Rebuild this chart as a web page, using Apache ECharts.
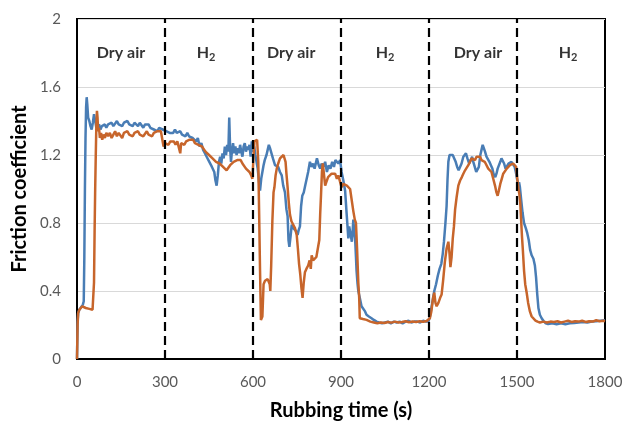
<!DOCTYPE html>
<html>
<head>
<meta charset="utf-8">
<title>Friction coefficient vs rubbing time</title>
<script src="https://cdn.jsdelivr.net/npm/echarts@6/dist/echarts.min.js"></script>
<style>
    html, body { margin: 0; padding: 0; background: #fff; }
    #fig_friction { width: 623px; height: 421px; }
</style>
</head>
<body>
<div id="fig_friction"></div>
<script>
// [time (s), friction coefficient]
var blueSeries = [
    [0,0],[2,0.22],[4,0.27],[8,0.29],[14,0.30],[20,0.32],[23,0.34],[25,0.6],[27,1.0],[29,1.3],[31,1.48],[33,1.54],
    [35,1.50],[38,1.42],[42,1.40],[46,1.37],[50,1.35],[54,1.39],[58,1.44],[62,1.40],[66,1.36],[70,1.36],[75,1.38],
    [80,1.35],[85,1.37],[90,1.36],[95,1.38],[100,1.36],[106,1.38],[112,1.37],[118,1.39],[124,1.37],[130,1.38],
    [136,1.40],[142,1.38],[148,1.39],[154,1.37],[160,1.39],[166,1.38],[172,1.40],[178,1.38],[184,1.39],[190,1.37],
    [196,1.39],[202,1.38],[208,1.37],[214,1.39],[220,1.38],[226,1.36],[232,1.38],[238,1.37],[244,1.38],[250,1.36],
    [256,1.37],[262,1.35],[268,1.36],[274,1.34],[280,1.36],[286,1.37],[292,1.35],[298,1.36],[304,1.34],[310,1.35],
    [316,1.33],[322,1.34],[328,1.33],[334,1.35],[340,1.33],[346,1.32],[352,1.34],[358,1.32],[364,1.33],[370,1.31],
    [376,1.33],[382,1.31],[388,1.32],[394,1.30],[400,1.31],[406,1.28],[412,1.30],[418,1.25],[424,1.27],[430,1.23],
    [436,1.21],[442,1.19],[448,1.17],[454,1.16],[460,1.13],[464,1.14],[468,1.10],[472,1.05],[476,1.02],[480,1.08],
    [484,1.16],[488,1.19],[492,1.15],[496,1.21],[500,1.18],[504,1.25],[508,1.20],[512,1.26],[516,1.22],[519,1.42],
    [522,1.24],[525,1.16],[528,1.22],[532,1.27],[536,1.21],[540,1.25],[544,1.20],[548,1.24],[552,1.21],[556,1.26],
    [560,1.22],[564,1.19],[568,1.25],[572,1.27],[576,1.22],[580,1.25],[584,1.23],[588,1.26],[592,1.19],[596,1.28],
    [600,1.22],[604,1.25],[608,1.20],[612,1.16],[616,1.12],[620,1.05],[624,0.99],[628,1.06],[632,1.10],[636,1.14],
    [640,1.17],[646,1.20],[650,1.23],[654,1.26],[658,1.24],[663,1.21],[668,1.18],[675,1.14],[681,1.15],[686,1.13],
    [692,1.10],[698,1.08],[703,1.02],[709,0.98],[714,0.88],[718,0.84],[721,0.70],[724,0.66],[728,0.72],[732,0.79],
    [737,0.77],[743,0.78],[748,0.75],[752,0.73],[756,0.76],[760,0.78],[764,0.90],[768,0.96],[773,0.98],[778,1.02],
    [783,1.06],[788,1.10],[794,1.16],[800,1.13],[805,1.15],[810,1.12],[818,1.18],[824,1.14],[829,1.12],[834,1.15],
    [840,1.13],[846,1.16],[852,1.10],[858,1.14],[864,1.12],[870,1.16],[876,1.13],[881,1.17],[886,1.18],[891,1.15],
    [897,1.17],[902,1.10],[908,1.05],[914,0.99],[919,0.86],[925,0.71],[928,0.78],[931,0.79],[934,0.72],[937,0.69],
    [940,0.76],[942,0.82],[945,0.75],[948,0.71],[951,0.60],[953,0.52],[956,0.45],[959,0.40],[964,0.36],[970,0.31],
    [976,0.30],[982,0.28],[987,0.26],[995,0.25],[1004,0.24],[1012,0.23],[1021,0.22],[1030,0.215],[1040,0.21],
    [1050,0.215],[1060,0.22],[1070,0.21],[1080,0.22],[1090,0.215],[1100,0.22],[1110,0.21],[1120,0.22],[1130,0.225],
    [1140,0.215],[1150,0.22],[1160,0.22],[1170,0.215],[1180,0.225],[1190,0.22],[1198,0.22],[1203,0.25],[1208,0.30],
    [1213,0.35],[1218,0.40],[1224,0.44],[1230,0.49],[1236,0.53],[1242,0.56],[1247,0.62],[1251,0.69],[1256,0.80],
    [1260,0.90],[1263,1.05],[1266,1.16],[1270,1.20],[1275,1.21],[1281,1.20],[1286,1.18],[1291,1.16],[1296,1.13],
    [1301,1.11],[1306,1.12],[1311,1.15],[1317,1.19],[1322,1.20],[1326,1.21],[1331,1.18],[1337,1.15],[1342,1.17],
    [1347,1.19],[1351,1.16],[1356,1.13],[1361,1.10],[1366,1.09],[1370,1.13],[1375,1.20],[1379,1.23],[1383,1.26],
    [1387,1.25],[1391,1.22],[1396,1.19],[1401,1.18],[1406,1.16],[1411,1.14],[1416,1.12],[1420,1.09],[1426,1.07],
    [1430,1.09],[1434,1.12],[1438,1.13],[1443,1.16],[1447,1.18],[1451,1.17],[1456,1.15],[1461,1.12],[1466,1.13],
    [1471,1.15],[1476,1.14],[1481,1.16],[1487,1.15],[1492,1.13],[1496,1.10],[1500,1.06],[1504,1.02],[1507,1.04],
    [1510,1.01],[1514,0.94],[1519,0.86],[1524,0.80],[1530,0.77],[1535,0.74],[1540,0.70],[1545,0.64],[1550,0.61],
    [1556,0.59],[1561,0.55],[1565,0.48],[1569,0.38],[1573,0.30],[1578,0.26],[1584,0.24],[1590,0.225],[1598,0.21],
    [1606,0.205],[1620,0.21],[1635,0.205],[1650,0.21],[1665,0.205],[1680,0.21],[1695,0.212],[1710,0.215],
    [1725,0.218],[1740,0.215],[1755,0.22],[1770,0.222],[1785,0.225],[1800,0.228]
];

var orangeSeries = [
    [0,0],[2,0.20],[4,0.27],[8,0.29],[12,0.30],[18,0.31],[24,0.305],[30,0.30],[36,0.30],[42,0.295],[48,0.29],
    [53,0.29],[56,0.30],[58,0.45],[60,0.75],[62,1.0],[64,1.2],[66,1.38],[68,1.46],[70,1.42],[72,1.34],[75,1.36],
    [78,1.30],[82,1.33],[86,1.29],[90,1.32],[95,1.30],[100,1.33],[106,1.31],[112,1.33],[118,1.30],[124,1.32],
    [130,1.34],[136,1.31],[142,1.33],[148,1.32],[154,1.30],[160,1.33],[166,1.32],[172,1.34],[178,1.32],[184,1.33],
    [190,1.31],[196,1.33],[202,1.32],[208,1.34],[214,1.32],[220,1.33],[226,1.31],[232,1.32],[238,1.34],[244,1.32],
    [250,1.33],[256,1.31],[262,1.33],[268,1.32],[274,1.34],[280,1.33],[286,1.34],[292,1.35],[295,1.25],[300,1.27],
    [306,1.28],[312,1.26],[318,1.28],[324,1.27],[330,1.28],[336,1.26],[342,1.28],[348,1.27],[352,1.21],[355,1.27],
    [360,1.28],[366,1.26],[372,1.28],[378,1.27],[384,1.29],[390,1.28],[396,1.29],[402,1.27],[408,1.28],[414,1.26],
    [420,1.27],[426,1.25],[432,1.24],[438,1.22],[444,1.21],[450,1.20],[456,1.19],[462,1.18],[468,1.17],[474,1.16],
    [480,1.17],[486,1.15],[492,1.14],[498,1.13],[504,1.12],[510,1.11],[516,1.12],[522,1.14],[528,1.15],[534,1.16],
    [540,1.15],[546,1.17],[552,1.16],[558,1.17],[564,1.15],[570,1.14],[576,1.12],[582,1.12],[588,1.10],[594,1.08],
    [598,1.06],[602,1.20],[605,1.28],[610,1.29],[614,1.29],[618,1.16],[621,0.85],[624,0.52],[627,0.23],[630,0.22],
    [632,0.25],[636,0.44],[641,0.46],[646,0.45],[650,0.47],[654,0.48],[657,0.44],[659,0.40],[662,0.55],[666,0.81],
    [670,0.98],[673,1.01],[677,1.08],[681,1.12],[686,1.15],[692,1.18],[698,1.19],[704,1.20],[708,1.19],[711,1.16],
    [714,1.09],[718,1.01],[722,0.92],[726,0.85],[731,0.81],[737,0.81],[743,0.77],[749,0.73],[753,0.65],[757,0.56],
    [761,0.50],[765,0.42],[769,0.36],[773,0.45],[777,0.51],[782,0.53],[788,0.55],[793,0.58],[797,0.53],[800,0.61],
    [805,0.58],[811,0.57],[816,0.60],[822,0.59],[826,0.70],[829,0.85],[832,0.97],[835,1.10],[838,1.15],[842,1.14],
    [846,1.02],[850,1.04],[856,1.07],[862,1.06],[868,1.09],[874,1.08],[880,1.09],[886,1.06],[891,1.08],[897,1.07],
    [902,1.01],[908,1.03],[914,1.04],[920,1.02],[925,1.01],[931,1.00],[937,0.99],[942,0.87],[947,0.82],[951,0.80],
    [955,0.64],[959,0.45],[962,0.36],[964,0.24],[975,0.235],[987,0.23],[1000,0.22],[1012,0.215],[1024,0.21],
    [1036,0.215],[1048,0.212],[1060,0.218],[1072,0.214],[1084,0.22],[1096,0.215],[1108,0.218],[1120,0.222],
    [1132,0.216],[1144,0.22],[1156,0.218],[1168,0.222],[1180,0.219],[1192,0.224],[1198,0.22],[1203,0.24],
    [1208,0.28],[1214,0.36],[1218,0.39],[1222,0.33],[1226,0.31],[1232,0.33],[1238,0.36],[1243,0.38],[1248,0.46],
    [1254,0.57],[1260,0.65],[1266,0.69],[1270,0.62],[1273,0.54],[1277,0.60],[1281,0.71],[1285,0.78],[1289,0.88],
    [1294,0.95],[1300,1.02],[1306,1.05],[1312,1.07],[1317,1.09],[1323,1.11],[1328,1.12],[1334,1.14],[1340,1.16],
    [1345,1.18],[1351,1.19],[1357,1.17],[1362,1.19],[1368,1.18],[1374,1.19],[1379,1.17],[1385,1.18],[1390,1.16],
    [1396,1.15],[1402,1.12],[1408,1.11],[1413,1.10],[1419,1.06],[1425,1.02],[1430,0.98],[1434,0.96],[1438,0.99],
    [1443,1.03],[1448,1.06],[1453,1.09],[1459,1.10],[1465,1.12],[1470,1.12],[1476,1.14],[1482,1.15],[1487,1.15],
    [1492,1.14],[1497,1.13],[1501,1.06],[1505,1.00],[1508,0.97],[1511,0.92],[1514,0.82],[1517,0.72],[1520,0.64],
    [1524,0.52],[1528,0.44],[1533,0.39],[1538,0.33],[1544,0.28],[1550,0.25],[1556,0.24],[1563,0.226],[1570,0.22],
    [1578,0.215],[1590,0.22],[1602,0.215],[1614,0.22],[1626,0.218],[1638,0.222],[1650,0.215],[1662,0.22],
    [1674,0.225],[1686,0.218],[1698,0.222],[1710,0.22],[1722,0.225],[1734,0.218],[1746,0.222],[1758,0.22],
    [1770,0.228],[1782,0.222],[1794,0.225],[1800,0.222]
];

// gas switch times and the atmosphere names written over each stage
var switchTimes = [300, 600, 900, 1200, 1500];
var stageLabels = ['Dry air', 'H2', 'Dry air', 'H2', 'Dry air', 'H2'];
var stageLabelTimes = [150, 440, 730, 1050, 1367, 1674];
var stageLabelLevel = 1.8;

var xTicks = [0, 300, 600, 900, 1200, 1500, 1800];
var yTicks = [0, 0.4, 0.8, 1.2, 1.6, 2];

var fig_friction = {
    plot_id: 'fig_friction',
    plot_chart: null,

    init: function() {
        var font = 'Lato, "Open Sans", sans-serif';

        var labelData = [];
        for (let i = 0; i < stageLabels.length; i++) {
            labelData.push([stageLabelTimes[i], stageLabelLevel, stageLabels[i]]);
        }

        this.option = {
            animation: false,
            textStyle: { fontFamily: font },
            grid: {
                top: 19,
                right: 18,
                bottom: 62,
                left: 77,
                outerBoundsMode: 'none',
                show: true,
                borderColor: '#000',
                borderWidth: 2
            },
            xAxis: {
                type: 'value',
                min: xTicks[0],
                max: xTicks[xTicks.length - 1],
                interval: xTicks[1] - xTicks[0],
                name: 'Rubbing time (s)',
                nameLocation: 'middle',
                nameGap: 42,
                nameTextStyle: { fontSize: 20, fontWeight: 'bold', color: '#000', fontFamily: font },
                axisLine: { lineStyle: { color: '#000', width: 2 } },
                axisTick: { show: false },
                splitLine: { show: false },
                axisLabel: {
                    fontSize: 15, color: '#595959', margin: 16, fontFamily: font,
                    formatter: function(v) { return String(v); }
                }
            },
            yAxis: {
                type: 'value',
                min: yTicks[0],
                max: yTicks[yTicks.length - 1],
                interval: yTicks[1] - yTicks[0],
                name: 'Friction coefficient',
                nameLocation: 'middle',
                nameGap: 46,
                nameTextStyle: { fontSize: 20, fontWeight: 'bold', color: '#000', fontFamily: font },
                axisLine: { show: true, lineStyle: { color: '#000', width: 2 } },
                axisTick: { show: false },
                splitLine: { lineStyle: { color: '#d9d9d9', width: 1 } },
                axisLabel: { fontSize: 15, color: '#595959', margin: 16, fontFamily: font }
            },
            series: [
                {
                    name: 'blue',
                    type: 'line',
                    data: blueSeries,
                    showSymbol: false,
                    lineStyle: { color: '#497db5', width: 2.5 },
                    itemStyle: { color: '#497db5' },
                    z: 2
                },
                {
                    name: 'orange',
                    type: 'line',
                    data: orangeSeries,
                    showSymbol: false,
                    lineStyle: { color: '#c7652b', width: 2.5 },
                    itemStyle: { color: '#c7652b' },
                    z: 3
                },
                {
                    name: 'switches',
                    type: 'line',
                    data: [],
                    z: 4,
                    markLine: {
                        silent: true,
                        symbol: ['none', 'none'],
                        label: { show: false },
                        lineStyle: { color: '#000', width: 2.2, type: [9, 5] },
                        data: switchTimes.map(function(t) { return { xAxis: t }; })
                    }
                },
                {
                    name: 'stages',
                    type: 'scatter',
                    data: labelData,
                    symbolSize: 0,
                    silent: true,
                    z: 5,
                    label: {
                        show: true,
                        position: 'inside',
                        formatter: function(p) {
                            var s = p.data[2];
                            if (s === 'H2') return '{b|H}{s|2}';
                            return '{b|' + s + '}';
                        },
                        rich: {
                            b: { fontSize: 16, fontWeight: 'bold', color: '#000', fontFamily: font },
                            s: { fontSize: 11, fontWeight: 'bold', color: '#000', fontFamily: font, padding: [9, 0, 0, 0] }
                        }
                    }
                }
            ]
        };

        this.plot_chart = echarts.init(document.getElementById(this.plot_id));
        this.plot_chart.setOption(this.option);
    }
};

fig_friction.init();
</script>
</body>
</html>
